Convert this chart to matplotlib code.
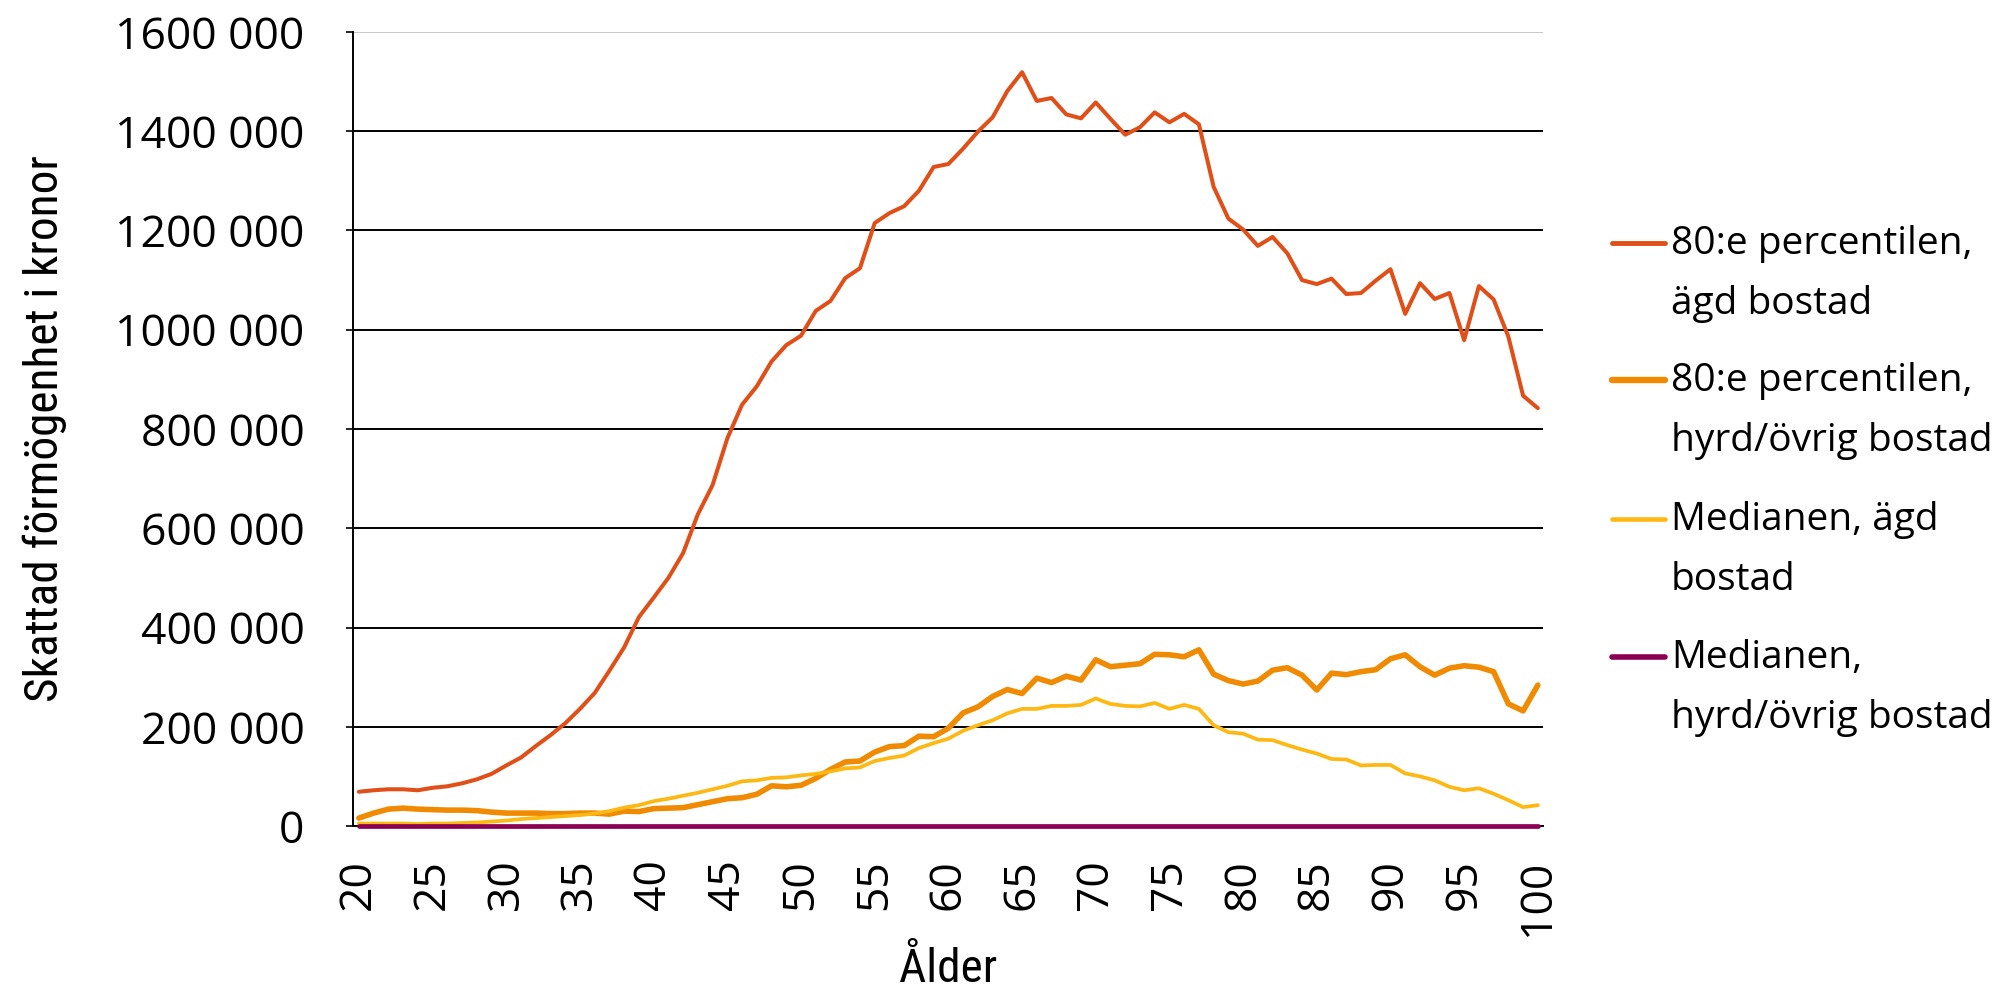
import matplotlib
matplotlib.use("Agg")
import matplotlib.pyplot as plt
from matplotlib import font_manager as fm
from matplotlib.lines import Line2D
from matplotlib.ticker import FuncFormatter

# ---------------- data ----------------
ages = list(range(20, 101))

p80_owned = [69000, 72000, 74000, 74000, 72000, 77000, 80000, 86000, 94000, 105000,
             122000, 138000, 161000, 183000, 207000, 236000, 268000, 313000, 360000, 421000,
             460000, 500000, 550000, 628000, 687000, 781000, 849000, 886000, 936000, 969000,
             988000, 1038000, 1058000, 1104000, 1124000, 1215000, 1235000, 1249000, 1280000, 1328000,
             1334000, 1365000, 1399000, 1428000, 1481000, 1519000, 1461000, 1467000, 1434000, 1426000,
             1458000, 1425000, 1393000, 1408000, 1438000, 1418000, 1435000, 1414000, 1288000, 1224000,
             1202000, 1169000, 1187000, 1154000, 1100000, 1092000, 1103000, 1072000, 1074000, 1099000,
             1122000, 1032000, 1094000, 1062000, 1074000, 979000, 1088000, 1061000, 986000, 867000,
             842000]

p80_rented = [16000, 26000, 34000, 36000, 34000, 33000, 32000, 32000, 31000, 28000,
              26000, 26000, 26000, 25000, 25000, 26000, 26000, 24000, 30000, 29000,
              35000, 36000, 37000, 43000, 49000, 55000, 57000, 64000, 81000, 79000,
              82000, 96000, 114000, 129000, 131000, 149000, 160000, 162000, 181000, 180000,
              197000, 228000, 240000, 261000, 275000, 267000, 298000, 289000, 302000, 294000,
              335000, 321000, 324000, 327000, 346000, 345000, 341000, 355000, 306000, 293000,
              286000, 292000, 314000, 319000, 304000, 274000, 308000, 305000, 311000, 315000,
              337000, 345000, 321000, 304000, 318000, 323000, 320000, 311000, 246000, 232000,
              284000]

median_owned = [5000, 5000, 5000, 5000, 4000, 5000, 5000, 6000, 7000, 9000,
                11000, 14000, 16000, 18000, 20000, 22000, 25000, 30000, 37000, 42000,
                50000, 55000, 61000, 67000, 74000, 81000, 90000, 92000, 97000, 98000,
                102000, 105000, 110000, 116000, 118000, 131000, 137000, 142000, 157000, 167000,
                176000, 192000, 203000, 213000, 227000, 236000, 236000, 242000, 242000, 244000,
                257000, 246000, 242000, 241000, 248000, 236000, 244000, 236000, 203000, 189000,
                186000, 174000, 173000, 163000, 154000, 146000, 135000, 134000, 122000, 123000,
                123000, 106000, 100000, 92000, 79000, 72000, 76000, 65000, 52000, 38000,
                42000]

median_rented = [0, 0, 0, 0, 0, 0, 0, 0, 0, 0,
                 0, 0, 0, 0, 0, 0, 0, 0, 0, 0,
                 0, 0, 0, 0, 0, 0, 0, 0, 0, 0,
                 0, 0, 0, 0, 0, 0, 0, 0, 0, 0,
                 0, 0, 0, 0, 0, 0, 0, 0, 0, 0,
                 0, 0, 0, 0, 0, 0, 0, 0, 0, 0,
                 0, 0, 0, 0, 0, 0, 0, 0, 0, 0,
                 0, 0, 0, 0, 0, 0, 0, 0, 0, 0,
                 0]

series_labels = ["80:e percentilen,\nägd bostad",
                 "80:e percentilen,\nhyrd/övrig bostad",
                 "Medianen, ägd\nbostad",
                 "Medianen,\nhyrd/övrig bostad"]
x_ticks = list(range(20, 101, 5))
y_ticks = list(range(0, 1600001, 200000))
x_title = "Ålder"
y_title = "Skattad förmögenhet i kronor"

# ---------------- style ----------------
colors = ["#E14F18", "#F08A00", "#FDB813", "#8A0052"]
widths = [2.9, 4.0, 2.7, 3.4]

available = {f.name for f in fm.fontManager.ttflist}
main_font = "Open Sans" if "Open Sans" in available else "DejaVu Sans"
narrow_font = None
for cand in ["Liberation Sans Narrow", "Roboto Condensed", "Open Sans Condensed", "Arial Narrow"]:
    if cand in available:
        narrow_font = cand
        break
if narrow_font is None:
    narrow_kw = dict(family="DejaVu Sans", fontstretch="condensed")
else:
    narrow_kw = dict(family=narrow_font)

W, H = 2008, 996
fig = plt.figure(figsize=(W / 100, H / 100), dpi=100)
ax_l, ax_r, ax_t, ax_b = 353, 1543, 32, 826
ax = fig.add_axes([ax_l / W, 1 - ax_b / H, (ax_r - ax_l) / W, (ax_b - ax_t) / H])

all_series = [p80_owned, p80_rented, median_owned, median_rented]
for vals, c, lw, lab in zip(all_series, colors, widths, series_labels):
    ax.plot(ages, vals, color=c, lw=lw, label=lab, solid_joinstyle="round",
            solid_capstyle="round", zorder=3, clip_on=False)

ax.set_xlim(19.6, 100.35)
ax.set_ylim(0, 1600000)
ax.set_xticks(x_ticks)
ax.set_yticks(y_ticks)
ax.yaxis.set_major_formatter(FuncFormatter(lambda v, p: "0" if v == 0 else f"{int(v) // 1000} 000"))

ax.grid(axis="y", color="black", lw=1.4, zorder=1)
ax.grid(axis="x", visible=False)
fig.canvas.draw()
glines = ax.get_ygridlines()
glines[-1].set_color("#c8c8c8")

ax.spines["right"].set_visible(False)
ax.spines["top"].set_visible(False)
ax.spines["left"].set_color("black")
ax.spines["left"].set_linewidth(1.4)
ax.spines["bottom"].set_color("black")
ax.spines["bottom"].set_linewidth(1.4)

ax.tick_params(axis="y", length=5, width=1.2, direction="out", pad=30,
               labelsize=32)
ax.tick_params(axis="x", length=0, pad=24, labelsize=32, labelrotation=90)
for lab in ax.get_yticklabels() + ax.get_xticklabels():
    lab.set_family(main_font)
for lab in ax.get_xticklabels():
    lab.set_va("top")
    lab.set_ha("center")

ax.set_ylabel(y_title, fontsize=34, va="center", **narrow_kw)
ax.yaxis.set_label_coords((45 - ax_l) / (ax_r - ax_l), 0.5)
ax.set_xlabel(x_title, fontsize=34, va="center", **narrow_kw)
ax.xaxis.set_label_coords(0.5, -(969 - ax_b) / (ax_b - ax_t))

# ---------------- legend (manual, in figure pixels) ----------------
first_line_centers = [243, 380, 519, 657]
line_gap = 57
for (c, lw, lab, yc) in zip(colors, widths, series_labels, first_line_centers):
    yf = 1 - yc / H
    fig.add_artist(Line2D([1612 / W, 1665 / W], [yf, yf], color=c, lw=lw + 0.6,
                          solid_capstyle="round", transform=fig.transFigure))
    n_lines = lab.count("\n") + 1
    base_last = yc + 14 + line_gap * (n_lines - 1)
    fig.text(1671 / W, 1 - base_last / H, lab, fontsize=28, family=main_font,
             ha="left", va="baseline", linespacing=1.75)

fig.savefig("out.png", dpi=100)
